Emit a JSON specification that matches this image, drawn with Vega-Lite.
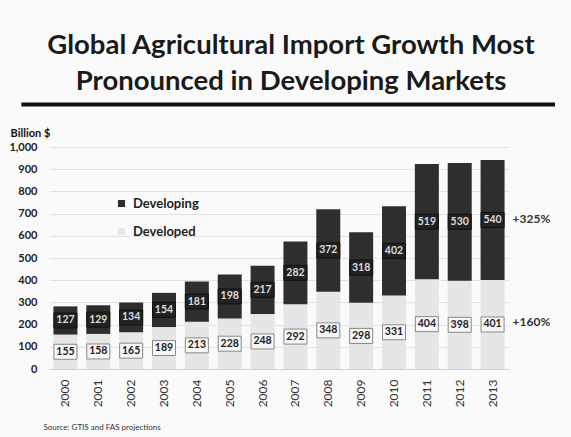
{
  "$schema": "https://vega.github.io/schema/vega-lite/v6.json",
  "autosize": "none",
  "width": 460,
  "height": 222,
  "padding": {"left": 49, "top": 147, "right": 62, "bottom": 68},
  "background": "#fafafa",
  "title": {
    "text": ["Global Agricultural Import Growth Most", "Pronounced in Developing Markets"],
    "anchor": "middle",
    "frame": "group",
    "dx": 12,
    "offset": 7,
    "font": "Lato",
    "fontSize": 27.5,
    "fontWeight": "bold",
    "color": "#1a1a1a",
    "lineHeight": 36
  },
  "config": {
    "view": {"stroke": null},
    "font": "Lato",
    "axisY": {
      "format": ",d", "labelOverlap": false, "labelFontSize": 11, "labelFontWeight": "bold",
      "labelColor": "#222222", "labelPadding": 12,
      "gridColor": "#e2e2e2", "domain": false, "ticks": false,
      "titleAngle": 0, "titleAlign": "left",
      "titleBaseline": "alphabetic", "titleX": -39, "titleY": -11,
      "titleFontSize": 11, "titleFontWeight": "bold", "titleColor": "#111111"
    }
  },
  "datasets": {
    "imports": [
      {"year": "2000", "series": "Developed", "value": 155},
      {"year": "2001", "series": "Developed", "value": 158},
      {"year": "2002", "series": "Developed", "value": 165},
      {"year": "2003", "series": "Developed", "value": 189},
      {"year": "2004", "series": "Developed", "value": 213},
      {"year": "2005", "series": "Developed", "value": 228},
      {"year": "2006", "series": "Developed", "value": 248},
      {"year": "2007", "series": "Developed", "value": 292},
      {"year": "2008", "series": "Developed", "value": 348},
      {"year": "2009", "series": "Developed", "value": 298},
      {"year": "2010", "series": "Developed", "value": 331},
      {"year": "2011", "series": "Developed", "value": 404},
      {"year": "2012", "series": "Developed", "value": 398},
      {"year": "2013", "series": "Developed", "value": 401},
      {"year": "2000", "series": "Developing", "value": 127},
      {"year": "2001", "series": "Developing", "value": 129},
      {"year": "2002", "series": "Developing", "value": 134},
      {"year": "2003", "series": "Developing", "value": 154},
      {"year": "2004", "series": "Developing", "value": 181},
      {"year": "2005", "series": "Developing", "value": 198},
      {"year": "2006", "series": "Developing", "value": 217},
      {"year": "2007", "series": "Developing", "value": 282},
      {"year": "2008", "series": "Developing", "value": 372},
      {"year": "2009", "series": "Developing", "value": 318},
      {"year": "2010", "series": "Developing", "value": 402},
      {"year": "2011", "series": "Developing", "value": 519},
      {"year": "2012", "series": "Developing", "value": 530},
      {"year": "2013", "series": "Developing", "value": 540}
    ],
    "notes": [
      {"year": "2013", "label": "+325%", "value": 675},
      {"year": "2013", "label": "+160%", "value": 212}
    ],
    "underline": [{"start": -0.06, "end": 1.1, "value": 1192}]
  },
  "resolve": {"scale": {"x": "independent"}, "axis": {"x": "independent"}},
  "layer": [
    {
      "layer": [
        {
          "data": {"name": "imports"},
          "transform": [
            {"stack": "value", "groupby": ["year"], "sort": [{"field": "series", "order": "ascending"}], "as": ["v0", "v1"]},
            {"calculate": "(datum.v0 + datum.v1) / 2", "as": "mid"}
          ],
          "layer": [
            {
              "mark": {"type": "bar"},
              "encoding": {
                "x": {
                  "field": "year", "type": "ordinal",
                  "scale": {"paddingInner": 0.27, "paddingOuter": 0.135},
                  "axis": {
                    "labelAngle": -90, "labelFontSize": 12, "labelColor": "#333333",
                    "labelFont": "Lato",
                    "ticks": false, "domain": true, "domainColor": "#d0d0d0", "labelPadding": 10,
                    "title": "Source: GTIS and FAS projections",
                    "titleFontSize": 8, "titleFontWeight": "normal", "titleColor": "#333333",
                    "titleAnchor": "start", "titleAlign": "left", "titleX": -6, "titleY": 62,
                    "titleBaseline": "bottom"
                  }
                },
                "y": {
                  "field": "v0", "type": "quantitative",
                  "scale": {"domain": [0, 1000]},
                  "axis": {"values": [0, 100, 200, 300, 400, 500, 600, 700, 800, 900, 1000], "tickCount": 12, "title": "Billion $"}
                },
                "y2": {"field": "v1"},
                "color": {
                  "field": "series", "type": "nominal",
                  "scale": {"domain": ["Developing", "Developed"], "range": ["#2e2e2e", "#e6e6e6"]},
                  "legend": {
                    "orient": "none", "legendX": 66, "legendY": 50, "title": null,
                    "symbolType": "square", "symbolSize": 50, "symbolStrokeWidth": 0,
                    "labelFontSize": 13, "labelFontWeight": "bold", "labelColor": "#222222",
                    "rowPadding": 14, "labelOffset": 5
                  }
                }
              }
            },
            {
              "mark": {"type": "tick", "size": 23, "thickness": 15, "strokeWidth": 1, "opacity": 1},
              "encoding": {
                "x": {"field": "year", "type": "ordinal"},
                "y": {"field": "mid", "type": "quantitative"},
                "fill": {"condition": {"test": "datum.series === 'Developing'", "value": "#222222"}, "value": "#f6f6f6"},
                "stroke": {"condition": {"test": "datum.series === 'Developing'", "value": "#111111"}, "value": "#8a8a8a"}
              }
            },
            {
              "mark": {"type": "text", "fontSize": 10.5, "fontWeight": "bold", "baseline": "middle"},
              "encoding": {
                "x": {"field": "year", "type": "ordinal"},
                "y": {"field": "mid", "type": "quantitative"},
                "text": {"field": "value", "type": "quantitative"},
                "color": {"condition": {"test": "datum.series === 'Developing'", "value": "#dddddd"}, "value": "#222222"}
              }
            }
          ]
        },
        {
          "data": {"name": "notes"},
          "mark": {"type": "text", "align": "left", "dx": 20, "fontSize": 12, "fontWeight": "bold", "color": "#333333", "baseline": "middle"},
          "encoding": {
            "x": {"field": "year", "type": "ordinal"},
            "y": {"field": "value", "type": "quantitative"},
            "text": {"field": "label"}
          }
        }
      ]
    },
    {
      "data": {"name": "underline"},
      "mark": {"type": "rule", "color": "#111111", "strokeWidth": 4, "clip": false},
      "encoding": {
        "x": {"field": "start", "type": "quantitative", "scale": {"domain": [0, 1]}, "axis": null},
        "x2": {"field": "end"},
        "y": {"field": "value", "type": "quantitative"}
      }
    }
  ]
}
